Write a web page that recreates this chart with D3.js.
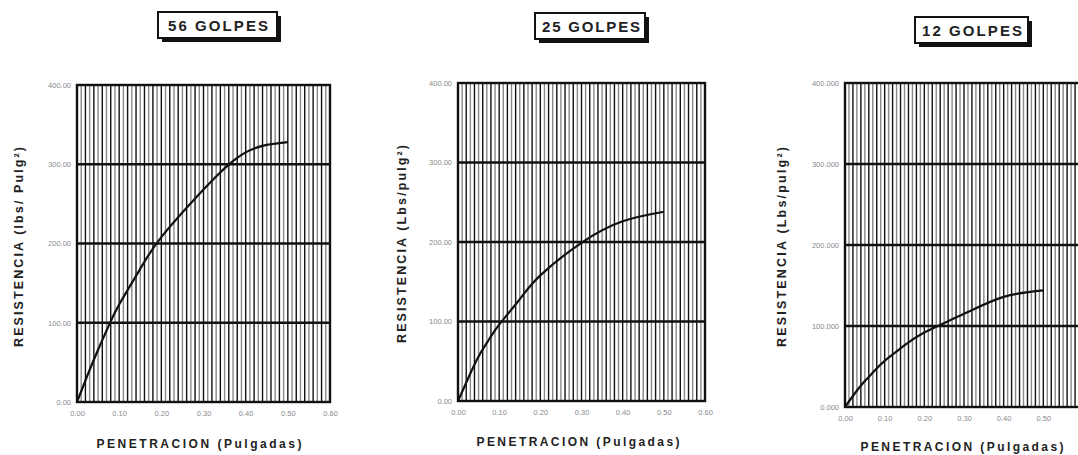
<!DOCTYPE html>
<html>
<head>
<meta charset="utf-8">
<script src="https://cdn.jsdelivr.net/npm/d3@7"></script>
<style>
  html, body { margin: 0; padding: 0; background: #fff; }
  svg { display: block; font-family: "Liberation Sans", Arial, sans-serif; }
</style>
</head>
<body>
<svg id="chart" width="1078" height="455"></svg>
<script>
// Penetration readings (inches) shared by the three CBR specimens
const penetracion = [0, 0.025, 0.05, 0.075, 0.1, 0.15, 0.2, 0.3, 0.4, 0.5];
// Load readings (lbs/in²) for each compaction energy
const resistencia56 = [0, 34, 66, 96, 123, 168, 208, 268, 315, 328];
const resistencia25 = [0, 29, 56, 77, 96, 128, 158, 199, 226, 238];
const resistencia12 = [0, 17, 32, 45, 57, 76, 92, 115, 136, 144];

const titulos = ["56 GOLPES", "25 GOLPES", "12 GOLPES"];
const titulosY = ["RESISTENCIA (lbs/ Pulg²)", "RESISTENCIA (Lbs/pulg²)", "RESISTENCIA (Lbs/pulg²)"];
const tituloX = "PENETRACION (Pulgadas)";
const xTicks = [0, 0.1, 0.2, 0.3, 0.4, 0.5, 0.6];
const yTicks = [0, 100, 200, 300, 400];
const yDecimales = [2, 2, 3];

const series = [resistencia56, resistencia25, resistencia12];

const W = 1078;

// Panel layout
const paneles = [
  { left: 77,  right: 330,  top: 85, bottom: 402,
    box: [158, 12, 119, 26], title: [218, 30, 100],
    yt: [19, 247, 200], xt: [199, 448, 205] },
  { left: 458, right: 705,  top: 83, bottom: 401,
    box: [535, 13, 110, 26], title: [591, 31, 98],
    yt: [402, 244, 198], xt: [578, 446, 203] },
  { left: 845, right: 1083, top: 83, bottom: 407,
    box: [915, 17, 113, 26], title: [972, 35, 100],
    yt: [782, 247, 200], xt: [962, 451, 203] }
];

const svg = d3.select("#chart");

function fitText(sel, width) {
  sel.attr("textLength", width).attr("lengthAdjust", "spacing");
}

paneles.forEach((p, i) => {
  const x = d3.scaleLinear().domain([0, 0.6]).range([p.left, p.right]);
  const y = d3.scaleLinear().domain([0, 400]).range([p.bottom, p.top]);
  const g = svg.append("g");

  // vertical grid every 0.01"
  const vLines = d3.range(1, 60).map(k => k / 100);
  g.selectAll("line.v").data(vLines).join("line")
    .attr("class", "v")
    .attr("x1", d => x(d)).attr("x2", d => x(d))
    .attr("y1", p.top).attr("y2", p.bottom)
    .attr("stroke", (d, k) => (k % 2 === 1) ? "#111" : "#8a8a8a")
    .attr("stroke-width", 1.4);

  // horizontal grid at every 100 lbs/in²
  g.selectAll("line.h").data([100, 200, 300]).join("line")
    .attr("class", "h")
    .attr("x1", p.left).attr("x2", p.right)
    .attr("y1", d => y(d)).attr("y2", d => y(d))
    .attr("stroke", "#111").attr("stroke-width", 2.4);

  // frame
  g.append("rect")
    .attr("x", p.left).attr("y", p.top)
    .attr("width", p.right - p.left).attr("height", p.bottom - p.top)
    .attr("fill", "none").attr("stroke", "#111").attr("stroke-width", 2.4);

  // curve
  const line = d3.line()
    .x((d, k) => x(penetracion[k]))
    .y(d => y(d))
    .curve(d3.curveNatural);
  g.append("path")
    .datum(series[i])
    .attr("d", line)
    .attr("fill", "none").attr("stroke", "#111").attr("stroke-width", 2.2);

  // axes (labels only)
  const visibles = xTicks.filter(t => x(t) + 10 <= W);
  const ax = g.append("g")
    .attr("transform", `translate(0,${p.bottom})`)
    .call(d3.axisBottom(x).tickValues(visibles).tickSize(0).tickPadding(9)
      .tickFormat(d3.format(".2f")));
  const ay = g.append("g")
    .attr("transform", `translate(${p.left},0)`)
    .call(d3.axisLeft(y).tickValues(yTicks).tickSize(0).tickPadding(6)
      .tickFormat(d => d.toFixed(yDecimales[i])));
  [ax, ay].forEach(a => {
    a.select(".domain").remove();
    a.selectAll("text").attr("fill", "#8a8a8a").attr("font-size", 7.5)
      .attr("font-family", "'Liberation Sans', Arial, sans-serif");
  });

  // title box with shadow
  const [bx, by, bw, bh] = p.box;
  svg.append("rect").attr("x", bx + 4).attr("y", by + 4).attr("width", bw).attr("height", bh)
    .attr("fill", "#111");
  svg.append("rect").attr("x", bx).attr("y", by).attr("width", bw).attr("height", bh)
    .attr("fill", "#fff").attr("stroke", "#111").attr("stroke-width", 2);
  svg.append("text")
    .attr("x", p.title[0]).attr("y", p.title[1] + 1)
    .attr("text-anchor", "middle")
    .attr("font-size", 15).attr("font-weight", "bold").attr("fill", "#222")
    .text(titulos[i])
    .call(fitText, p.title[2]);

  // y axis title
  svg.append("text")
    .attr("transform", `translate(${p.yt[0] + 4},${p.yt[1]}) rotate(-90)`)
    .attr("text-anchor", "middle")
    .attr("font-size", 12.5).attr("font-weight", "bold").attr("fill", "#222")
    .text(titulosY[i])
    .call(fitText, p.yt[2]);

  // x axis title
  svg.append("text")
    .attr("x", p.xt[0]).attr("y", p.xt[1])
    .attr("text-anchor", "middle")
    .attr("font-size", 12).attr("font-weight", "bold").attr("fill", "#222")
    .text(tituloX)
    .call(fitText, p.xt[2]);
});
</script>
</body>
</html>
